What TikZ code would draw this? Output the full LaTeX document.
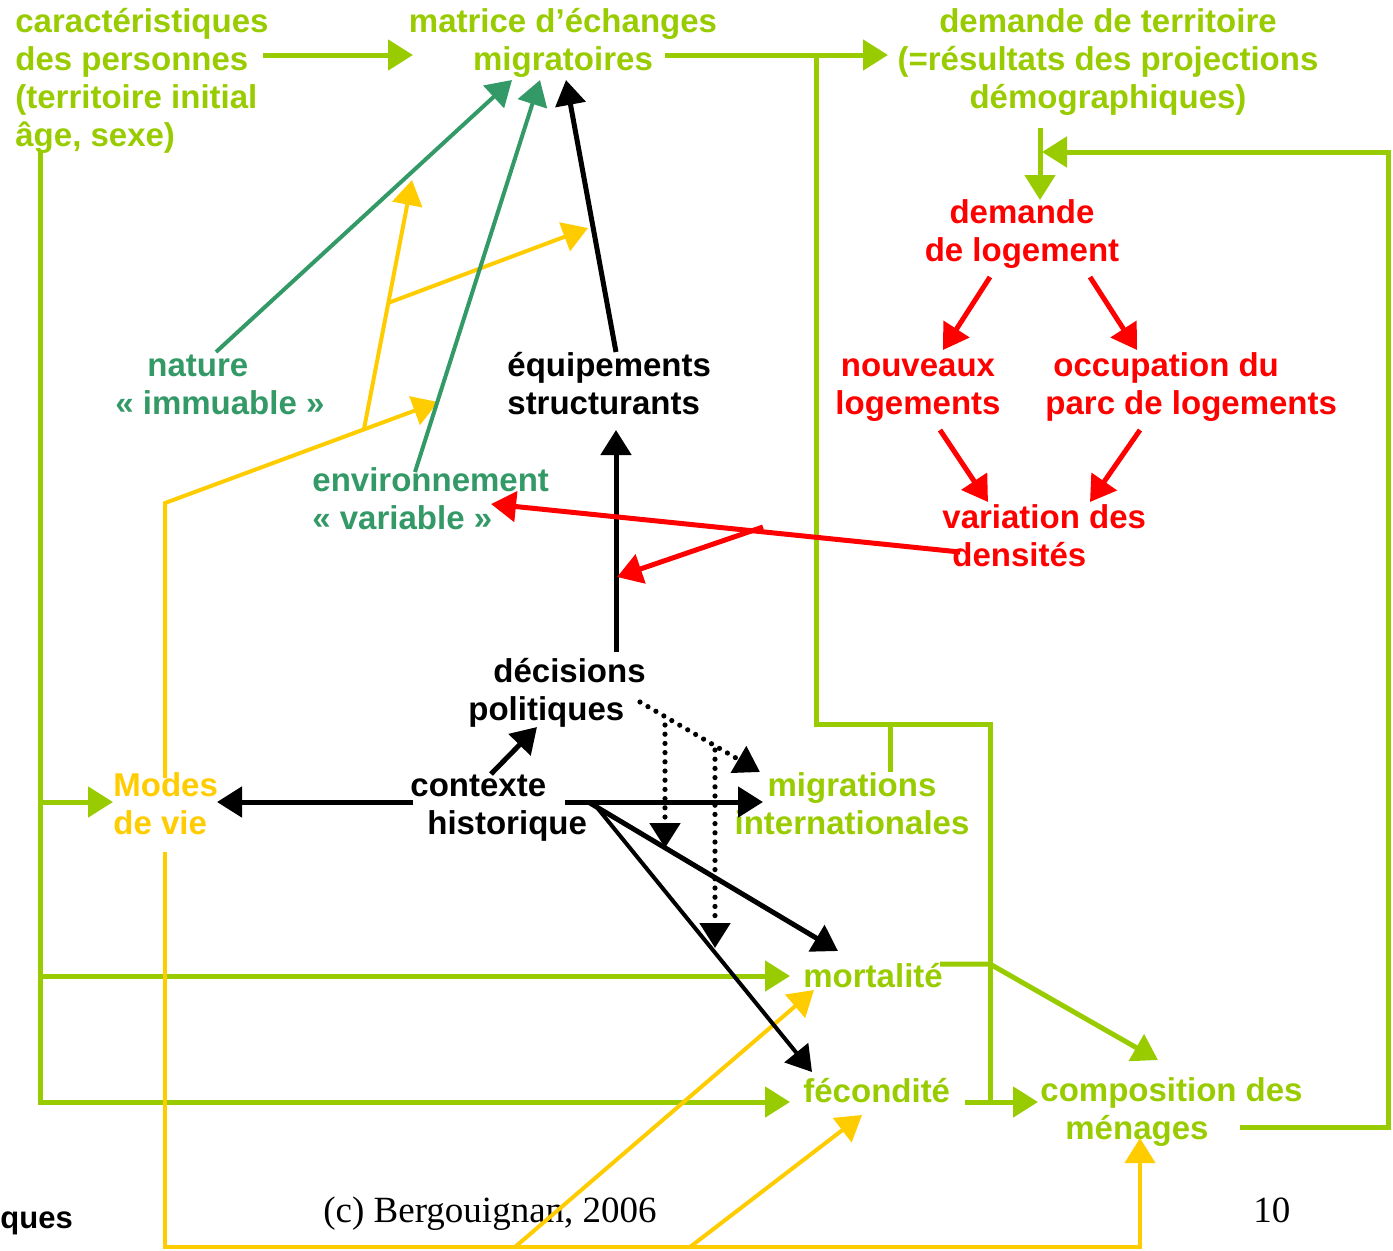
\documentclass[tikz,border=0pt]{standalone}
\usepackage{fontspec}
\setmainfont{Liberation Sans}
\newfontfamily\serifont{Liberation Serif}
\usetikzlibrary{arrows.meta}

\definecolor{lime}{RGB}{153,204,0}
\definecolor{gold}{RGB}{255,204,0}
\definecolor{sea}{RGB}{51,153,102}
\definecolor{rouge}{RGB}{255,0,0}

\tikzset{
  lbl/.style={inner sep=0pt, font=\bfseries\fontsize{16.5}{19}\selectfont},
  tip/.style={-{Triangle[length=12.5pt,width=15pt]}},
  lime link/.style={draw=lime, line width=2.5pt},
  gold link/.style={draw=gold, line width=2pt},
  sea link/.style={draw=sea, line width=2pt},
  red link/.style={draw=rouge, line width=2.5pt},
  black link/.style={draw=black, line width=2.5pt},
  dot link/.style={draw=black, line width=2.6pt, line cap=round, dash pattern=on 0pt off 4.6pt},
}

\begin{document}
\begin{tikzpicture}[x=0.5pt,y=0.5pt,yscale=-1]
\useasboundingbox (0,0) rectangle (1393,1250);

%Text Nodes (base = baseline of the last line)
\node[lbl, text=lime, align=left, anchor=base west] (cara) at (15,146) {caractéristiques\\des personnes\\(territoire initial\\âge, sexe)};
\node[lbl, text=lime, align=center, anchor=base] (matrice) at (563,70) {matrice d’échanges\\migratoires};
\node[lbl, text=lime, align=center, anchor=base] (demterr) at (1108,108) {demande de territoire\\(=résultats des projections\\démographiques)};
\node[lbl, text=rouge, align=center, anchor=base] (demlog) at (1022,261) {demande\\de logement};
\node[lbl, text=rouge, align=center, anchor=base] (nouveaux) at (918,414) {nouveaux\\logements};
\node[lbl, text=rouge, align=left, anchor=base west] (occup) at (1045,414) {\hspace*{4pt}occupation du\\parc de logements};
\node[lbl, text=rouge, align=left, anchor=base west] (densite) at (942,566) {variation des\\\hspace*{5pt}densités};
\node[lbl, text=sea, align=left, anchor=base west] (nature) at (115,414) {\hspace*{16pt}nature\\« immuable »};
\node[lbl, align=left, anchor=base west] (equip) at (507,414) {équipements\\structurants};
\node[lbl, text=sea, align=left, anchor=base west] (env) at (312,529) {environnement\\« variable »};
\node[lbl, align=left, anchor=base west] (decis) at (468,720) {\hspace*{12.5pt}décisions\\politiques};
\node[lbl, align=left, anchor=base west] (contexte) at (410,834) {contexte\\\hspace*{8.5pt}historique};
\node[lbl, text=gold, align=left, anchor=base west] (modes) at (113,834) {Modes\\de vie};
\node[lbl, text=lime, align=center, anchor=base] (migr) at (852,834) {migrations\\internationales};
\node[lbl, text=lime, anchor=base west] (mort) at (803,987) {mortalité};
\node[lbl, text=lime, anchor=base west] (fec) at (803,1102) {fécondité};
\node[lbl, text=lime, align=left, anchor=base west] (compo) at (1040,1139) {composition des\\\hspace*{12.5pt}ménages};
\node[inner sep=0pt, font=\serifont\fontsize{18.5}{22}\selectfont, anchor=base west] (credit) at (323,1222) {(c) Bergouignan, 2006};
\node[inner sep=0pt, font=\serifont\fontsize{18.5}{22}\selectfont, anchor=base west] (page) at (1253,1222) {10};
\node[inner sep=0pt, font=\bfseries\fontsize{15.5}{18}\selectfont, anchor=base west] (cut) at (0,1228) {ques};

%Connector ends
\path (263,55) coordinate (cara-out) (413,55) coordinate (matrice-in)
      (665,55) coordinate (matrice-out) (888,55) coordinate (demterr-in)
      (816,55) coordinate (split) (990,724) coordinate (bend) (990,1102) coordinate (merge)
      (890,772) coordinate (migr-top)
      (1040,128) coordinate (demterr-out) (1040,200) coordinate (demlog-in)
      (1042,152) coordinate (loop-in) (1240,1127) coordinate (compo-out) (1388,152) coordinate (loop-corner)
      (40,150) coordinate (cara-down) (113,802) coordinate (modes-in)
      (790,976) coordinate (mort-in) (790,1102) coordinate (fec-in)
      (965,1102) coordinate (fec-out) (1038,1102) coordinate (compo-in)
      (940,964) coordinate (mort-out) (990,964) coordinate (mort-knee) (1158,1060) coordinate (compo-top);
\path (165,778) coordinate (modes-up) (165,503) coordinate (gold-bend) (438,402) coordinate (env-in)
      (364,429) coordinate (gold-fork) (412,180) coordinate (gold-up)
      (388,303) coordinate (gold-mid) (588,228) coordinate (gold-right)
      (165,852) coordinate (modes-down) (165,1247) coordinate (gold-low) (1140,1138) coordinate (compo-bot)
      (515,1247) coordinate (gold-a) (814,990) coordinate (mort-low)
      (690,1247) coordinate (gold-b) (862,1115) coordinate (fec-low);
\path (216,352) coordinate (nature-out) (512,80) coordinate (matrice-a)
      (415,472) coordinate (env-out) (540,80) coordinate (matrice-b)
      (616,352) coordinate (equip-out) (566,80) coordinate (matrice-c)
      (616,652) coordinate (decis-out) (616,430) coordinate (equip-in)
      (491,774) coordinate (ctx-up) (537,727) coordinate (decis-in)
      (413,802) coordinate (ctx-west) (217,802) coordinate (modes-east)
      (565,802) coordinate (ctx-east) (763,802) coordinate (migr-in)
      (590,803) coordinate (ctx-a) (838,951) coordinate (mort-top)
      (595,805) coordinate (ctx-b) (812,1072) coordinate (fec-top)
      (640,702) coordinate (decis-dot) (760,772) coordinate (migr-dot)
      (665,725) coordinate (dot-a) (665,848) coordinate (dot-a-end)
      (715,750) coordinate (dot-b) (715,948) coordinate (dot-b-end);
\path (990,277) coordinate (demlog-l) (943,350) coordinate (nouveaux-in)
      (1090,277) coordinate (demlog-r) (1137,350) coordinate (occup-in)
      (940,430) coordinate (nouveaux-out) (988,502) coordinate (densite-l)
      (1140,430) coordinate (occup-out) (1090,502) coordinate (densite-r)
      (960,552) coordinate (densite-out) (491,504) coordinate (env-east)
      (763,527) coordinate (red-fork) (617,577) coordinate (equip-low);

%Straight Lines: green
\draw[lime link, tip] (cara-out) -- (matrice-in);
\draw[lime link, tip] (matrice-out) -- (demterr-in);
\draw[lime link] (split) |- (bend) -- (merge);
\draw[lime link] (migr-top) -- (migr-top |- bend);
\draw[lime link, tip] (demterr-out) -- (demlog-in);
\draw[lime link, tip] (compo-out) -| (loop-corner) -- (loop-in);
\draw[lime link, tip] (cara-down) |- (fec-in);
\draw[lime link, tip] (cara-down |- modes-in) -- (modes-in);
\draw[lime link, tip] (cara-down |- mort-in) -- (mort-in);
\draw[lime link, tip] (fec-out) -- (compo-in);
\draw[lime link, tip] (mort-out) -- (mort-knee) -- (compo-top);

%Straight Lines: yellow
\draw[gold link, tip] (modes-up) -- (gold-bend) -- (env-in);
\draw[gold link, tip] (gold-fork) -- (gold-up);
\draw[gold link, tip] (gold-mid) -- (gold-right);
\draw[gold link, tip] (modes-down) -- (gold-low) -| (compo-bot);
\draw[gold link, tip] (gold-a) -- (mort-low);
\draw[gold link, tip] (gold-b) -- (fec-low);

%Straight Lines: teal
\draw[sea link, tip] (nature-out) -- (matrice-a);
\draw[sea link, tip] (env-out) -- (matrice-b);

%Straight Lines: black
\draw[black link, tip] (equip-out) -- (matrice-c);
\draw[black link, tip] (decis-out) -- (equip-in);
\draw[black link, tip] (ctx-up) -- (decis-in);
\draw[black link, tip] (ctx-west) -- (modes-east);
\draw[black link, tip] (ctx-east) -- (migr-in);
\draw[black link, tip] (ctx-a) -- (mort-top);
\draw[black link, line width=2pt, tip] (ctx-b) -- (fec-top);
\draw[dot link, tip] (decis-dot) -- (migr-dot);
\draw[dot link, tip] (dot-a) -- (dot-a-end);
\draw[dot link, tip] (dot-b) -- (dot-b-end);

%Straight Lines: red
\draw[red link, tip] (demlog-l) -- (nouveaux-in);
\draw[red link, tip] (demlog-r) -- (occup-in);
\draw[red link, tip] (nouveaux-out) -- (densite-l);
\draw[red link, tip] (occup-out) -- (densite-r);
\draw[red link, tip] (densite-out) -- (env-east);
\draw[red link, tip] (red-fork) -- (equip-low);

\end{tikzpicture}
\end{document}
